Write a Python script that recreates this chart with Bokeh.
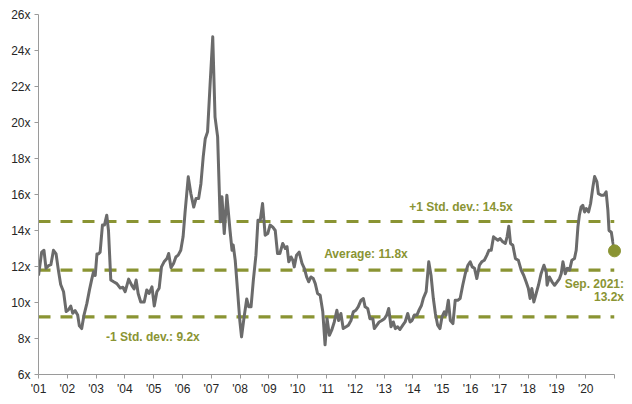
from bokeh.plotting import figure
from bokeh.models import Span, FixedTicker, PrintfTickFormatter, ColumnDataSource
from bokeh.core.properties import value
from bokeh.embed import file_html
from bokeh.resources import INLINE

# ---- data ----
dates = [2001.00, 2001.11, 2001.19, 2001.26, 2001.35, 2001.43, 2001.52, 2001.61, 2001.69, 2001.77,
         2001.87, 2001.96, 2002.04, 2002.12, 2002.19, 2002.27, 2002.36, 2002.42, 2002.50, 2002.58,
         2002.68, 2002.77, 2002.85, 2002.91, 2002.97, 2003.03, 2003.08, 2003.14, 2003.22, 2003.29,
         2003.37, 2003.43, 2003.51, 2003.61, 2003.72, 2003.84, 2003.93, 2004.01, 2004.13, 2004.24,
         2004.32, 2004.39, 2004.46, 2004.55, 2004.67, 2004.76, 2004.84, 2004.94, 2005.02, 2005.11,
         2005.19, 2005.27, 2005.36, 2005.46, 2005.52, 2005.60, 2005.69, 2005.77, 2005.85, 2005.94,
         2006.02, 2006.09, 2006.20, 2006.29, 2006.39, 2006.47, 2006.56, 2006.64, 2006.72, 2006.79,
         2006.87, 2006.96, 2007.05, 2007.13, 2007.22, 2007.31, 2007.37, 2007.45, 2007.54, 2007.65,
         2007.72, 2007.76, 2007.83, 2007.91, 2007.99, 2008.05, 2008.14, 2008.23, 2008.30, 2008.38,
         2008.46, 2008.55, 2008.62, 2008.70, 2008.78, 2008.87, 2008.96, 2009.04, 2009.13, 2009.22,
         2009.30, 2009.38, 2009.48, 2009.57, 2009.63, 2009.69, 2009.77, 2009.83, 2009.88, 2009.96,
         2010.05, 2010.15, 2010.23, 2010.31, 2010.38, 2010.46, 2010.54, 2010.61, 2010.69, 2010.78,
         2010.87, 2010.95, 2011.02, 2011.10, 2011.18, 2011.27, 2011.36, 2011.42, 2011.50, 2011.58,
         2011.68, 2011.76, 2011.85, 2011.93, 2012.02, 2012.10, 2012.20, 2012.28, 2012.34, 2012.43,
         2012.51, 2012.61, 2012.66, 2012.75, 2012.83, 2012.92, 2013.01, 2013.09, 2013.16, 2013.24,
         2013.32, 2013.39, 2013.47, 2013.55, 2013.65, 2013.73, 2013.82, 2013.90, 2013.97, 2014.05,
         2014.14, 2014.22, 2014.30, 2014.36, 2014.46, 2014.55, 2014.63, 2014.71, 2014.78, 2014.86,
         2014.94, 2015.01, 2015.09, 2015.15, 2015.23, 2015.30, 2015.39, 2015.47, 2015.56, 2015.64,
         2015.73, 2015.82, 2015.91, 2015.99, 2016.06, 2016.14, 2016.22, 2016.31, 2016.39, 2016.48,
         2016.57, 2016.64, 2016.72, 2016.80, 2016.87, 2016.95, 2017.03, 2017.12, 2017.21, 2017.27,
         2017.33, 2017.39, 2017.47, 2017.56, 2017.66, 2017.76, 2017.85, 2017.93, 2018.01, 2018.07,
         2018.13, 2018.20, 2018.28, 2018.36, 2018.45, 2018.55, 2018.63, 2018.66, 2018.74, 2018.83,
         2018.92, 2019.01, 2019.09, 2019.15, 2019.21, 2019.29, 2019.36, 2019.44, 2019.52, 2019.61,
         2019.67, 2019.73, 2019.78, 2019.84, 2019.90, 2019.96, 2020.02, 2020.10, 2020.17, 2020.25,
         2020.31, 2020.39, 2020.44, 2020.54, 2020.63, 2020.71, 2020.77, 2020.81, 2020.89, 2020.94,
         2021.00]

pe_ratio = [11.5, 12.8, 12.9, 11.9, 12.05, 12.1, 12.9, 12.7, 11.8, 11.0,
            10.6, 9.5, 9.6, 9.8, 9.4, 9.55, 9.3, 8.7, 8.55, 9.3,
            9.95, 10.7, 11.3, 11.7, 11.5, 12.7, 12.7, 12.8, 14.3, 14.3,
            14.85, 14.0, 11.25, 11.15, 11.05, 10.8, 10.85, 10.6, 11.3, 10.95,
            10.75, 11.25, 10.5, 10.03, 10.03, 10.7, 10.5, 10.87, 9.8, 10.6,
            10.8, 11.98, 12.26, 12.44, 12.72, 11.94, 12.17, 12.53, 12.63, 12.9,
            13.65, 15.03, 16.98, 16.05, 15.3, 15.78, 15.78, 16.6, 18.1, 19.1,
            19.48, 22.17, 24.76, 20.3, 19.2, 14.48, 15.87, 13.83, 15.96, 14.0,
            12.9, 13.2, 12.35, 10.7, 9.0, 8.09, 9.2, 10.2, 9.76, 9.76,
            11.24, 12.63, 14.57, 14.57, 15.5, 13.74, 13.83, 14.3, 14.2, 14.0,
            12.72, 12.72, 13.28, 13.0, 13.1, 12.26, 12.53, 12.35, 11.98, 12.63,
            12.8, 12.17, 11.9, 11.42, 11.15, 11.42, 11.33, 11.05, 10.5, 10.4,
            9.5, 7.65, 9.1, 8.18, 8.46, 8.92, 9.57, 9.0, 9.39, 8.55,
            8.65, 8.74, 9.0, 9.48, 9.57, 9.76, 10.13, 10.22, 9.76, 9.67,
            9.1, 9.1, 8.55, 8.74, 8.92, 9.0, 9.1, 9.3, 9.67, 8.65,
            8.92, 8.55, 8.65, 8.5, 8.74, 8.92, 9.39, 8.92, 9.0, 9.3,
            9.3, 9.6, 9.85, 10.22, 10.6, 12.26, 11.5, 10.22, 9.39, 8.74,
            8.55, 9.2, 9.48, 9.3, 10.13, 9.0, 8.83, 10.13, 10.13, 10.22,
            10.96, 11.61, 12.07, 12.26, 11.98, 11.9, 11.33, 12.07, 12.26, 12.35,
            12.63, 12.9, 12.9, 13.65, 13.55, 13.46, 13.55, 13.37, 13.28, 13.65,
            14.24, 13.28, 13.18, 12.44, 12.35, 11.8, 11.5, 11.15, 10.78, 10.22,
            10.78, 10.03, 10.5, 10.96, 11.6, 12.07, 11.7, 10.96, 11.42, 11.15,
            10.96, 11.15, 11.33, 11.6, 12.26, 11.6, 11.9, 11.8, 12.35, 12.44,
            12.9, 14.2, 14.85, 15.3, 15.4, 15.03, 15.22, 15.03, 15.5, 16.42,
            17.0, 16.7, 16.05, 15.96, 15.96, 16.15, 15.13, 14.0, 13.9, 13.37,
            12.87]

average = 11.8
plus_one_sd = 14.5
minus_one_sd = 9.2
latest_date = 2021.0
latest_value = 12.87

year_ticks = list(range(2001, 2022))
year_labels = ["'01", "'02", "'03", "'04", "'05", "'06", "'07", "'08", "'09", "'10",
               "'11", "'12", "'13", "'14", "'15", "'16", "'17", "'18", "'19", "'20", ""]
y_ticks = [6, 8, 10, 12, 14, 16, 18, 20, 22, 24, 26]

OLIVE = "#8a9433"
GREY = "#6b6b6b"
FONT = "Liberation Sans"

p = figure(width=632, height=400, output_backend="svg", toolbar_location=None,
           x_range=(2001, 2021), y_range=(6, 26),
           min_border_left=38, min_border_right=18, min_border_top=14, min_border_bottom=26)
p.outline_line_color = None
p.xgrid.visible = False
p.ygrid.visible = False
p.background_fill_color = "white"
p.border_fill_color = "white"

# reference lines
for val in (plus_one_sd, average, minus_one_sd):
    p.add_layout(Span(location=val, dimension="width", line_color=OLIVE,
                      line_width=3.2, line_dash="12 10", level="underlay"))

src = ColumnDataSource(dict(x=dates, y=pe_ratio))
p.line("x", "y", source=src, line_color=GREY, line_width=3, line_join="round")
p.scatter([latest_date], [latest_value], size=12, color=OLIVE, level="overlay")

# axes
xa = p.xaxis[0]
xa.ticker = FixedTicker(ticks=year_ticks)
xa.major_label_overrides = {t: l for t, l in zip(year_ticks, year_labels)}
xa.minor_tick_line_color = None
xa.major_tick_in = 0
xa.major_tick_out = 4
xa.axis_line_color = "#9a9a9a"
xa.major_tick_line_color = "#9a9a9a"
xa.major_label_text_font = FONT
xa.major_label_text_font_size = "12px"
xa.major_label_text_color = "#262626"
xa.major_label_standoff = 3

ya = p.yaxis[0]
ya.ticker = FixedTicker(ticks=y_ticks)
ya.formatter = PrintfTickFormatter(format="%dx")
ya.minor_tick_line_color = None
ya.major_tick_in = 0
ya.major_tick_out = 4
ya.axis_line_color = "#9a9a9a"
ya.major_tick_line_color = "#9a9a9a"
ya.major_label_text_font = FONT
ya.major_label_text_font_size = "12px"
ya.major_label_text_color = "#262626"
ya.major_label_standoff = 4

def add_label(x, y, text, align="center"):
    p.text(x=[x], y=[y], text=[text], text_align=align, text_baseline="middle",
           text_font=value(FONT), text_font_style="bold", text_font_size="12px",
           text_color=OLIVE, level="overlay")

add_label(2015.67, 15.29, "+1 Std. dev.: 14.5x")
add_label(2012.37, 12.72, "Average: 11.8x")
add_label(2004.97, 8.07, "-1 Std. dev.: 9.2x")
add_label(2021.33, 11.02, "Sep. 2021:", align="right")
add_label(2021.33, 10.32, "13.2x", align="right")

open("out.html", "w").write(file_html(p, INLINE))
